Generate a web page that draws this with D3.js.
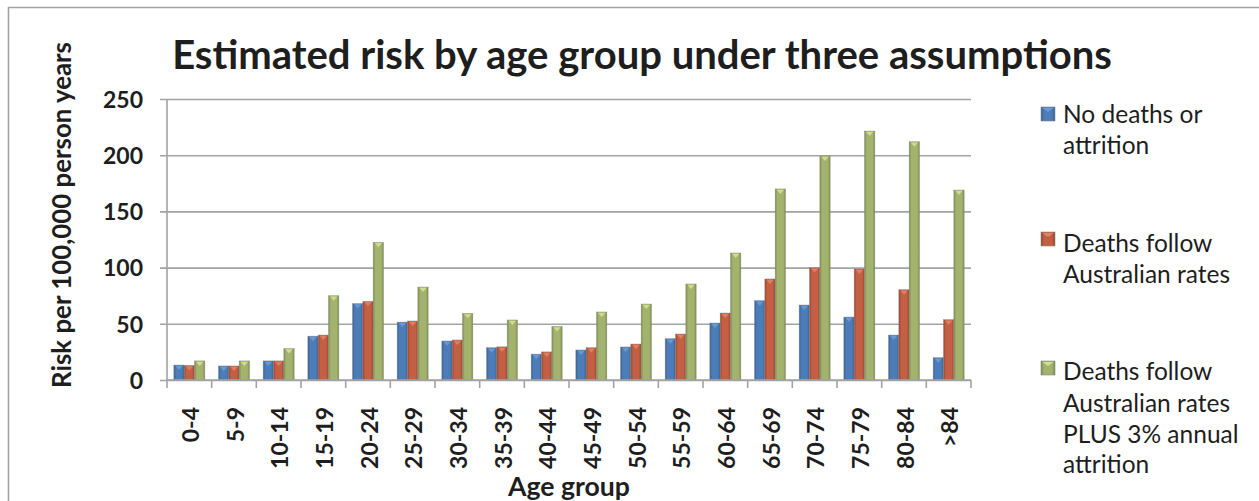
<!DOCTYPE html>
<html>
<head>
<meta charset="utf-8">
<script src="https://cdn.jsdelivr.net/npm/d3@7"></script>
<style>
  html, body { margin: 0; padding: 0; background: #fff; }
  svg { display: block; }
  text { font-family: Lato, "Open Sans", "DejaVu Sans", sans-serif; fill: #1e1e1e; }
</style>
</head>
<body>
<svg id="chart" width="1259" height="501"></svg>
<script>
const categories = ["0-4","5-9","10-14","15-19","20-24","25-29","30-34","35-39","40-44","45-49","50-54","55-59","60-64","65-69","70-74","75-79","80-84",">84"];
const seriesNames = ["No deaths or attrition", "Deaths follow Australian rates", "Deaths follow Australian rates PLUS 3% annual attrition"];
const noDeaths = [13.3, 12.5, 17, 39, 68, 51.5, 34.7, 28.8, 23, 26.7, 29.4, 36.8, 50.7, 70.6, 66.7, 56, 40, 19.9];
const australianRates = [13, 12.5, 17, 40, 70, 52.5, 35.6, 29.5, 25, 28.8, 32, 40.9, 59.6, 89.9, 100, 98.8, 80.4, 53.7];
const ratesPlusAttrition = [17, 17, 28, 75, 122.5, 82.7, 59.3, 53.4, 47.7, 60.5, 67.6, 85.4, 113, 170, 199.3, 221.5, 212, 169];
const yTicks = [0, 50, 100, 150, 200, 250];
const legendLines = [["No deaths or", "attrition"], ["Deaths follow", "Australian rates"], ["Deaths follow", "Australian rates", "PLUS 3% annual", "attrition"]];

const seriesValues = [noDeaths, australianRates, ratesPlusAttrition];
const colors = [
  {base: "#4c7db8", dark: "#355f92", light: "#6d9bd4"},
  {base: "#c35f44", dark: "#9a422c", light: "#e08466"},
  {base: "#a3b26d", dark: "#7e8c4d", light: "#d3e08f"}
];

const svg = d3.select("#chart");
const defs = svg.append("defs");
colors.forEach((c, i) => {
  const g = defs.append("linearGradient").attr("id", "grad" + i)
    .attr("x1", "0%").attr("x2", "100%").attr("y1", "0%").attr("y2", "0%");
  g.append("stop").attr("offset", "0%").attr("stop-color", c.dark);
  g.append("stop").attr("offset", "22%").attr("stop-color", c.base);
  g.append("stop").attr("offset", "78%").attr("stop-color", c.base);
  g.append("stop").attr("offset", "100%").attr("stop-color", c.dark);
});

function fitText(sel, target) {
  const node = sel.node();
  const fs = parseFloat(sel.attr("font-size"));
  const w = node.getComputedTextLength();
  if (w > 0) sel.attr("font-size", (fs * target / w).toFixed(2));
}

// outer border (top and left)
svg.append("path")
  .attr("d", "M8.5,501 L8.5,7.5 L1259,7.5")
  .attr("fill", "none").attr("stroke", "#a3a3a3").attr("stroke-width", 1.6);

const plotLeft = 167, plotRight = 971, plotTop = 99, plotBottom = 380;

const x = d3.scaleBand().domain(categories).range([plotLeft, plotRight]).paddingInner(0).paddingOuter(0);
const x1 = d3.scaleBand().domain(d3.range(3)).range([0, x.bandwidth()]).paddingInner(0).paddingOuter(0.66);
const y = d3.scaleLinear().domain([0, 250]).range([plotBottom, plotTop]);

// gridlines + y axis
const yAxis = d3.axisLeft(y).tickValues(yTicks).tickSize(-(plotRight - plotLeft + 7)).tickPadding(17).tickFormat(d3.format("d"));
const yg = svg.append("g").attr("transform", `translate(${plotLeft - 7},0)`).call(yAxis);
yg.select(".domain").remove();
yg.selectAll(".tick line").attr("stroke", "#a3a3a3").attr("stroke-width", 1.6).attr("x1", 0).attr("x2", plotRight - plotLeft + 7);
yg.selectAll(".tick text").attr("font-size", 23).attr("font-weight", "bold").attr("fill", "#1e1e1e")
  .attr("font-family", "Lato, 'Open Sans', sans-serif").attr("x", -17).attr("dy", "0.36em");

// y axis line
svg.append("line").attr("x1", plotLeft).attr("x2", plotLeft).attr("y1", plotTop).attr("y2", plotBottom)
  .attr("stroke", "#a3a3a3").attr("stroke-width", 1.6);

// bars
const groups = svg.append("g").selectAll("g").data(categories).join("g")
  .attr("transform", d => `translate(${x(d)},0)`);
seriesValues.forEach((vals, si) => {
  groups.append("rect")
    .attr("x", x1(si))
    .attr("width", x1.bandwidth())
    .attr("y", (d, i) => y(vals[i]))
    .attr("height", (d, i) => y(0) - y(vals[i]))
    .attr("fill", `url(#grad${si})`)
    .attr("stroke", "#8a8a8a").attr("stroke-width", 0.6).attr("stroke-opacity", 0.7);
  groups.append("path")
    .attr("d", (d, i) => {
      const bx = x1(si), bw = x1.bandwidth(), top = y(vals[i]);
      return `M${bx + 1.5},${top + 0.8} L${bx + bw - 1.5},${top + 0.8} L${bx + bw / 2},${top + 5}Z`;
    })
    .attr("fill", colors[si].light).attr("opacity", 0.9);
});

// x axis
const xAxis = d3.axisBottom(x).tickSize(0).tickFormat(d => d);
const xg = svg.append("g").attr("transform", `translate(0,${plotBottom})`).call(xAxis);
xg.select(".domain").attr("stroke", "#a3a3a3").attr("stroke-width", 1.6).attr("d", `M${plotLeft},0H${plotRight}`);
xg.selectAll(".tick text")
  .attr("font-size", 23).attr("font-weight", "bold").attr("fill", "#1e1e1e")
  .attr("font-family", "Lato, 'Open Sans', sans-serif")
  .attr("text-anchor", "end")
  .attr("transform", "rotate(-90)")
  .attr("x", -27).attr("y", 0).attr("dy", "0.42em");
// tick marks at band boundaries
const bounds = categories.map(c => x(c)).concat([plotRight]);
svg.append("g").selectAll("line").data(bounds).join("line")
  .attr("x1", d => d).attr("x2", d => d).attr("y1", plotBottom).attr("y2", plotBottom + 8)
  .attr("stroke", "#a3a3a3").attr("stroke-width", 1.6);

// title
const title = svg.append("text").attr("x", 642).attr("y", 69).attr("text-anchor", "middle")
  .attr("font-size", 34).attr("font-weight", "bold")
  .text("Estimated risk by age group under three assumptions");
fitText(title, 940);

// y axis title
const yTitle = svg.append("text").attr("transform", "translate(71,215) rotate(-90)").attr("text-anchor", "middle")
  .attr("font-size", 24).attr("font-weight", "bold")
  .text("Risk per 100,000 person years");
fitText(yTitle, 346);

// x axis title
const xTitle = svg.append("text").attr("x", 569).attr("y", 496).attr("text-anchor", "middle")
  .attr("font-size", 24).attr("font-weight", "bold").text("Age group");
fitText(xTitle, 122);

// legend
const legendSquares = [107, 232, 361];
const legendBaselines = [[123, 154], [252, 283], [380, 412, 443, 473]];
const leg = svg.append("g");
let legendFont = 22;
legendLines.forEach((lines, i) => {
  leg.append("rect").attr("x", 1041).attr("y", legendSquares[i]).attr("width", 14).attr("height", 14)
    .attr("fill", `url(#grad${i})`).attr("stroke", "#8a8a8a").attr("stroke-width", 0.6);
  leg.append("path")
    .attr("d", `M${1042.5},${legendSquares[i] + 1} L${1053.5},${legendSquares[i] + 1} L1048,${legendSquares[i] + 5}Z`)
    .attr("fill", colors[i].light);
  lines.forEach((ln, j) => {
    leg.append("text").attr("class", "legtxt").attr("x", 1063).attr("y", legendBaselines[i][j])
      .attr("font-size", legendFont).text(ln);
  });
});
// size legend text from widest line
const probe = leg.selectAll(".legtxt").filter(function() { return d3.select(this).text() === "Australian rates"; }).node();
if (probe) {
  const w = probe.getComputedTextLength();
  const fs = legendFont * 167 / w;
  leg.selectAll(".legtxt").attr("font-size", fs.toFixed(2));
}
</script>
</body>
</html>
